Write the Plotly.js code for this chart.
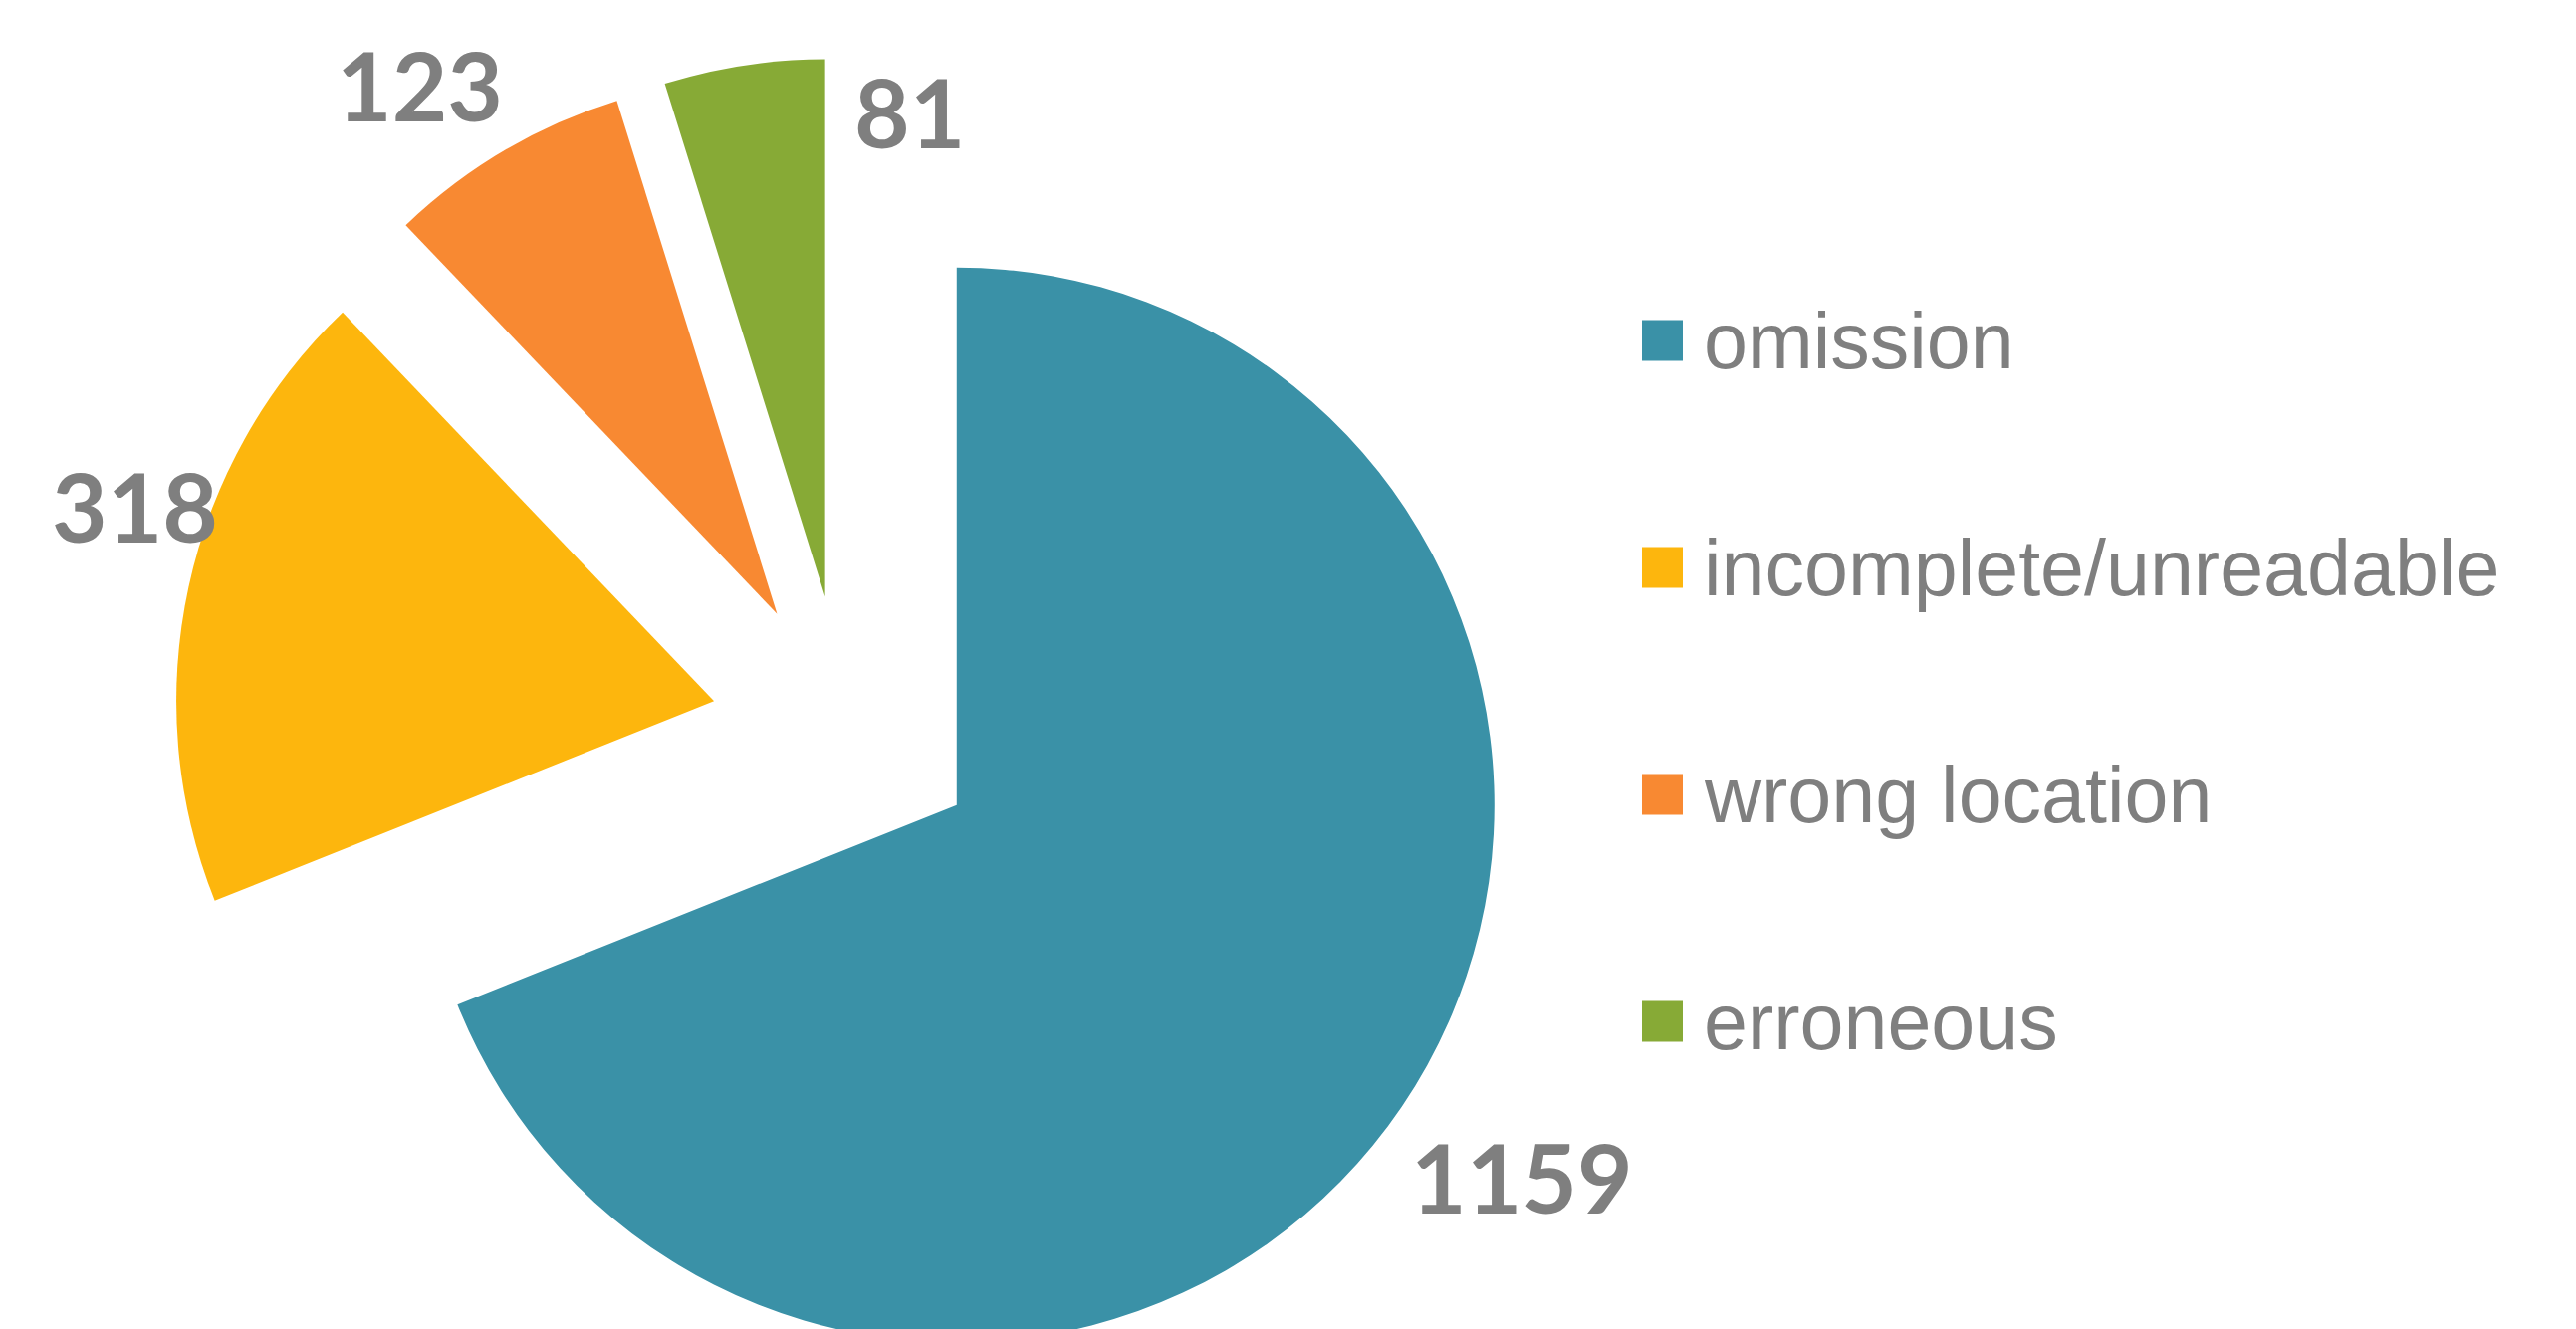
<!DOCTYPE html>
<html>
<head>
<meta charset="utf-8">
<script src="https://cdn.plot.ly/plotly-3.0.1.min.js"></script>
<style>
  html, body { margin: 0; padding: 0; background: #ffffff; overflow: hidden; }
  #wrap { width: 2587px; height: 1335px; overflow: hidden; }
  #chart { width: 2587px; height: 1420px; }
</style>
</head>
<body>
<div id="wrap"><div id="chart"></div></div>
<script>
// ---- data ----
const categories = ['omission', 'incomplete/unreadable', 'wrong location', 'erroneous'];
const counts = [1159, 318, 123, 81];
const sliceColors = ['#3a91a7', '#fdb60d', '#f88932', '#87aa36'];

// ---- layout constants (pixels) ----
const W = 2587, H = 1420;
const pullOut = 0.25;
const pieBox = { x0: 174, x1: 1524, y0: 58, y1: 1408 };
const labelPos = [[1528, 1181], [135, 507], [421, 84], [913, 111]];
const legendBox = { x: 1649, size: 41, textX: 1709, y0: 342, step: 228 };
const grey = '#7f7f7f';

const px = x => x / W;
const py = y => 1 - y / H;

const trace = {
  type: 'pie',
  labels: categories,
  values: counts,
  marker: { colors: sliceColors, line: { width: 0 } },
  pull: categories.map(() => pullOut),
  sort: false,
  direction: 'clockwise',
  rotation: 0,
  textinfo: 'none',
  hoverinfo: 'label+value',
  showlegend: false,
  domain: { x: [px(pieBox.x0), px(pieBox.x1)], y: [py(pieBox.y1), py(pieBox.y0)] }
};

const shapes = [];
const annotations = [];
categories.forEach((cat, i) => {
  const yc = legendBox.y0 + i * legendBox.step;
  shapes.push({
    type: 'rect', xref: 'paper', yref: 'paper',
    x0: px(legendBox.x), x1: px(legendBox.x + legendBox.size),
    y0: py(yc + legendBox.size / 2), y1: py(yc - legendBox.size / 2),
    fillcolor: sliceColors[i], line: { width: 0 }
  });
  annotations.push({
    xref: 'paper', yref: 'paper', x: px(legendBox.textX), y: py(yc),
    xanchor: 'left', yanchor: 'middle', showarrow: false,
    text: cat,
    font: { family: 'Liberation Sans, Arial, sans-serif', size: 79, color: grey }
  });
  annotations.push({
    xref: 'paper', yref: 'paper', x: px(labelPos[i][0]), y: py(labelPos[i][1]),
    xanchor: 'center', yanchor: 'middle', showarrow: false,
    text: '<b>' + counts[i] + '</b>',
    font: { family: 'Lato, DejaVu Sans, sans-serif', size: 96, color: grey }
  });
});

const layout = {
  width: W, height: H,
  margin: { l: 0, r: 0, t: 0, b: 0, pad: 0 },
  paper_bgcolor: '#ffffff',
  plot_bgcolor: '#ffffff',
  showlegend: false,
  shapes: shapes,
  annotations: annotations
};

Plotly.newPlot('chart', [trace], layout, { displayModeBar: false, staticPlot: true });
</script>
</body>
</html>
